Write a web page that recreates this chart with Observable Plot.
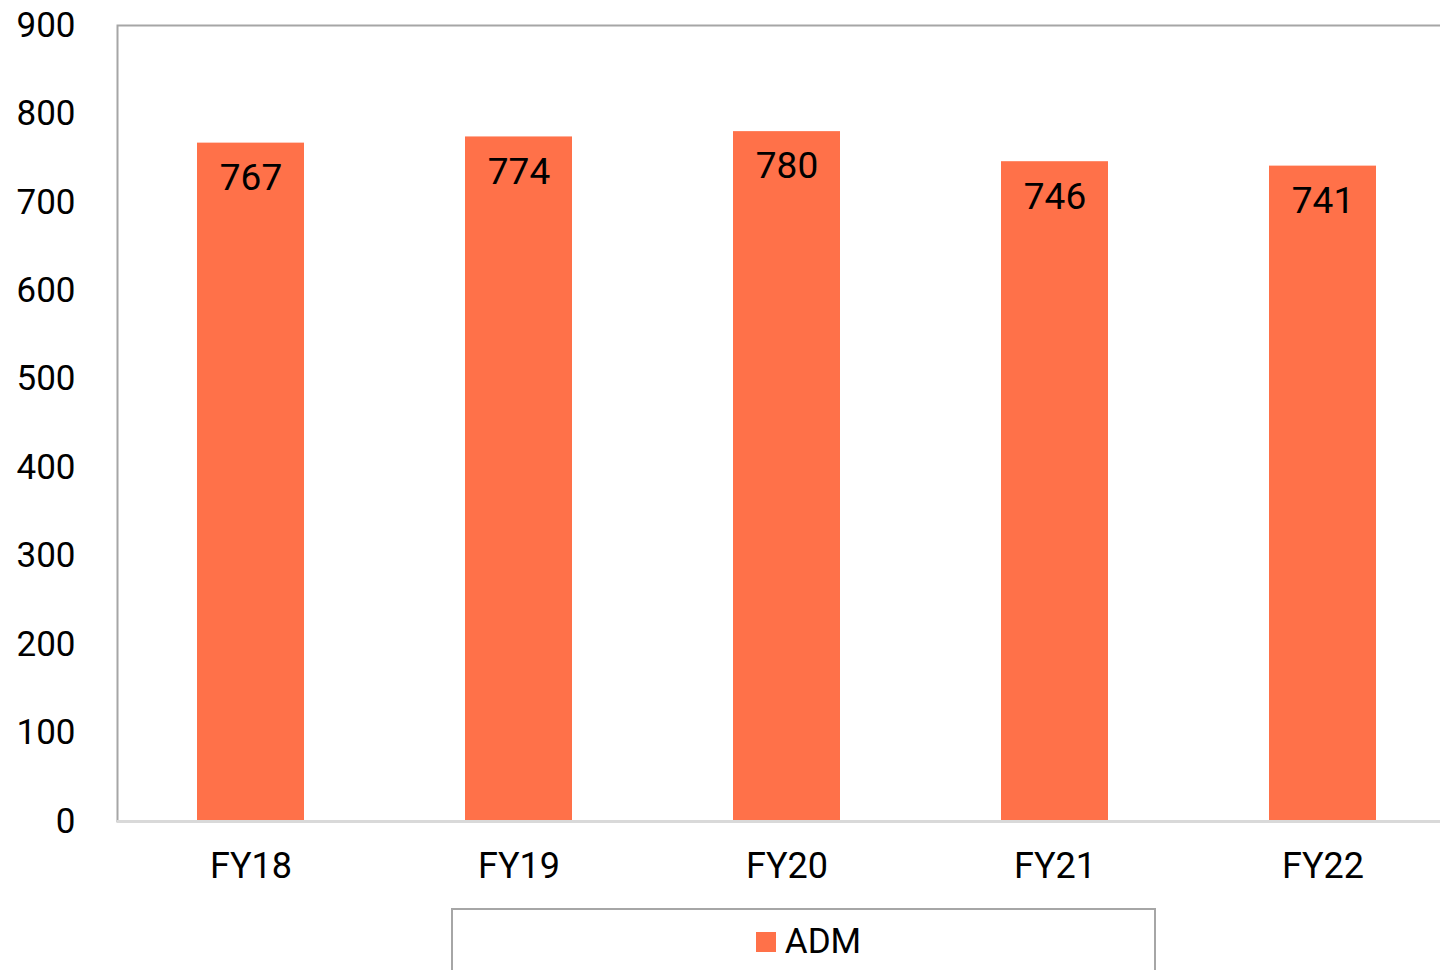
<!DOCTYPE html>
<html>
<head>
<meta charset="utf-8">
<script src="https://cdn.jsdelivr.net/npm/d3@7"></script>
<script src="https://cdn.jsdelivr.net/npm/@observablehq/plot@0.6"></script>
<style>
  html, body { margin: 0; padding: 0; background: #fff; overflow: hidden; }
  #wrap { position: relative; width: 1440px; height: 970px; overflow: hidden; font-family: Roboto, sans-serif; }
  #chart svg { max-width: none !important; display: block; }
  #legend { position: absolute; left: 451px; top: 908px; width: 705px; height: 80px; border: 2px solid #a6a6a6; box-sizing: border-box; }
  #legend .item { position: absolute; top: 11px; left: 0; right: 0; display: flex; justify-content: center; align-items: center; gap: 9px; font-size: 35px; color: #000; }
  #legend .sw { width: 20px; height: 20px; background: #FF7149; margin-left: 10px; }
</style>
</head>
<body>
<div id="wrap">
  <div id="chart"></div>
  <div id="legend"><div class="item"><span class="sw"></span><span class="lbl">ADM</span></div></div>
</div>
<script>
const categories = ["FY18", "FY19", "FY20", "FY21", "FY22"];
const values = [767, 774, 780, 746, 741];
const yTicks = [0, 100, 200, 300, 400, 500, 600, 700, 800, 900];
const seriesName = "ADM";
const barColor = "#FF7149";

const data = categories.map((c, i) => ({category: c, value: values[i]}));

const chart = Plot.plot({
  width: 1460,
  height: 900,
  marginLeft: 117,
  marginRight: 3,
  marginTop: 25,
  marginBottom: 79,
  style: {fontFamily: "Roboto, sans-serif", fontSize: "35px", color: "#000", background: "#fff", overflow: "hidden"},
  x: {domain: categories, paddingInner: 0.6, paddingOuter: 0.3, align: 0.5, label: null},
  y: {domain: [0, 900], label: null},
  marks: [
    Plot.frame({stroke: "#a6a6a6", strokeWidth: 2}),
    Plot.barY(data, {x: "category", y: "value", fill: barColor}),
    Plot.ruleY([0], {stroke: "#d9d9d9", strokeWidth: 3}),
    Plot.axisY({ticks: yTicks, tickSize: 0, tickPadding: 42, fontSize: 35, label: null, fill: "#000"}),
    Plot.axisX({tickSize: 0, tickPadding: 31, fontSize: 36, label: null, fill: "#000"}),
    Plot.text(data, {x: "category", y: "value", text: d => String(d.value), dy: 35, fontSize: 37, fill: "#000"})
  ]
});
document.getElementById("chart").appendChild(chart);
document.querySelector("#legend .lbl").textContent = seriesName;
</script>
</body>
</html>
